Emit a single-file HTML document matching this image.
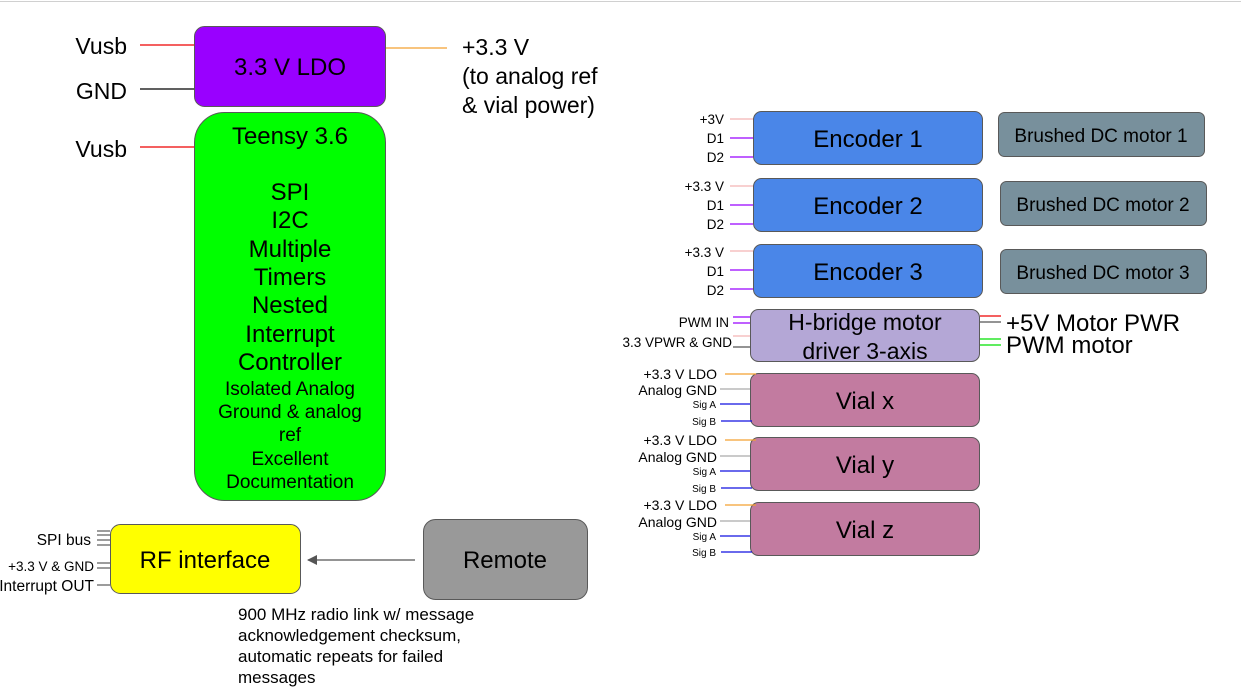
<!DOCTYPE html>
<html><head><meta charset="utf-8"><style>
html,body{margin:0;padding:0;background:#fff;width:1241px;height:691px;overflow:hidden}
svg{display:block;font-family:"Liberation Sans",Arial,sans-serif}
</style></head><body>
<svg width="1241" height="691" viewBox="0 0 1241 691" xmlns="http://www.w3.org/2000/svg">
<defs><marker id="ah" markerWidth="10" markerHeight="10" refX="9" refY="5" orient="auto" markerUnits="userSpaceOnUse"><path d="M0,0 L10,5 L0,10 Z" fill="#555"/></marker></defs>
<line x1="0" y1="1.5" x2="1241" y2="1.5" stroke="#d0d0d0" stroke-width="1"/>
<g stroke="#595959" stroke-width="1">
<rect x="194.5" y="26.5" width="191" height="80" rx="10" fill="#9900ff"/>
<rect x="194.5" y="112.5" width="191" height="388" rx="30" fill="#00ff00"/>
<rect x="110.5" y="524.5" width="190" height="69" rx="10" fill="#ffff00"/>
<rect x="423.5" y="519.5" width="164" height="80" rx="12" fill="#999999"/>
<rect x="753.5" y="111.5" width="229" height="53" rx="8" fill="#4a86e8"/>
<rect x="753.5" y="178.5" width="229" height="53" rx="8" fill="#4a86e8"/>
<rect x="753.5" y="244.5" width="229" height="53" rx="8" fill="#4a86e8"/>
<rect x="998.5" y="112.5" width="206" height="44" rx="6" fill="#78909c"/>
<rect x="1000.5" y="181.5" width="206" height="44" rx="6" fill="#78909c"/>
<rect x="1000.5" y="249.5" width="206" height="44" rx="6" fill="#78909c"/>
<rect x="750.5" y="309.5" width="229" height="52" rx="8" fill="#b4a7d6"/>
<rect x="750.5" y="373.5" width="229" height="53" rx="8" fill="#c27ba0"/>
<rect x="750.5" y="437.5" width="229" height="53" rx="8" fill="#c27ba0"/>
<rect x="750.5" y="502.5" width="229" height="53" rx="8" fill="#c27ba0"/>
</g>
<g stroke-width="1.3">
<line x1="140" y1="45" x2="194" y2="45" stroke="#e00"/>
<line x1="140" y1="89" x2="194" y2="89" stroke="#000"/>
<line x1="140" y1="147" x2="194" y2="147" stroke="#e00"/>
<line x1="386" y1="48" x2="447" y2="48" stroke="#f4a030"/>
<line x1="415" y1="560" x2="308" y2="560" stroke="#555" marker-end="url(#ah)"/>
<g stroke="#666"><line x1="97" y1="531" x2="110" y2="531"/><line x1="97" y1="535" x2="110" y2="535"/><line x1="97" y1="540" x2="110" y2="540"/><line x1="97" y1="545" x2="110" y2="545"/><line x1="97" y1="563" x2="110" y2="563"/><line x1="97" y1="568" x2="110" y2="568"/><line x1="97" y1="585" x2="110" y2="585"/></g>
<g stroke="#f4b4b4"><line x1="730" y1="119" x2="753" y2="119"/><line x1="730" y1="186" x2="753" y2="186"/><line x1="730" y1="251" x2="753" y2="251"/><line x1="733" y1="336" x2="750" y2="336"/></g>
<g stroke="#9900ff"><line x1="730" y1="138" x2="753" y2="138"/><line x1="730" y1="157" x2="753" y2="157"/><line x1="730" y1="205" x2="753" y2="205"/><line x1="730" y1="224" x2="753" y2="224"/><line x1="730" y1="270" x2="753" y2="270"/><line x1="730" y1="289" x2="753" y2="289"/><line x1="733" y1="317" x2="750" y2="317"/><line x1="733" y1="323" x2="750" y2="323"/></g>
<line x1="733" y1="347" x2="750" y2="347" stroke="#555"/>
<line x1="980" y1="316" x2="1001" y2="316" stroke="#e00"/>
<line x1="980" y1="322" x2="1001" y2="322" stroke="#555"/>
<line x1="980" y1="339" x2="1001" y2="339" stroke="#00e000"/>
<line x1="980" y1="345" x2="1001" y2="345" stroke="#00e000"/>
<g stroke="#f4a030"><line x1="725" y1="374" x2="756" y2="374"/><line x1="725" y1="440" x2="756" y2="440"/><line x1="725" y1="505" x2="756" y2="505"/></g>
<g stroke="#aaa"><line x1="720" y1="389" x2="750" y2="389"/><line x1="720" y1="456" x2="750" y2="456"/><line x1="720" y1="521" x2="750" y2="521"/></g>
<g stroke="#1010e0"><line x1="720" y1="404" x2="750" y2="404"/><line x1="721" y1="421" x2="752" y2="421"/><line x1="720" y1="471" x2="750" y2="471"/><line x1="721" y1="488" x2="752" y2="488"/><line x1="720" y1="536" x2="750" y2="536"/><line x1="721" y1="552" x2="752" y2="552"/></g>
</g>
<g fill="#000" font-size="23" text-anchor="end">
<text x="127" y="54">Vusb</text><text x="127" y="99">GND</text><text x="127" y="157">Vusb</text>
</g>
<g font-size="23" fill="#000">
<text x="462" y="55">+3.3 V</text><text x="462" y="84">(to analog ref</text><text x="462" y="113">&amp; vial power)</text>
</g>
<g text-anchor="middle" fill="#000">
<text x="290" y="75" font-size="24">3.3 V LDO</text>
<text x="290" y="144" font-size="24">Teensy 3.6</text>
<g font-size="24"><text x="290" y="200">SPI</text><text x="290" y="228">I2C</text><text x="290" y="257">Multiple</text><text x="290" y="285">Timers</text><text x="290" y="313">Nested</text><text x="290" y="342">Interrupt</text><text x="290" y="370">Controller</text></g>
<g font-size="19"><text x="290" y="395">Isolated Analog</text><text x="290" y="418">Ground &amp; analog</text><text x="290" y="441">ref</text><text x="290" y="465">Excellent</text><text x="290" y="488">Documentation</text></g>
<text x="205" y="568" font-size="24">RF interface</text>
<text x="505" y="568" font-size="24">Remote</text>
<g font-size="24"><text x="868" y="147">Encoder 1</text><text x="868" y="214">Encoder 2</text><text x="868" y="280">Encoder 3</text>
<text x="865" y="409">Vial x</text><text x="865" y="473">Vial y</text><text x="865" y="538">Vial z</text></g>
<g font-size="23"><text x="865" y="330">H-bridge motor</text><text x="865" y="359">driver 3-axis</text></g>
<g font-size="19"><text x="1101" y="142">Brushed DC motor 1</text><text x="1103" y="211">Brushed DC motor 2</text><text x="1103" y="279">Brushed DC motor 3</text></g>
</g>
<g font-size="17" fill="#000"><text x="238" y="620">900 MHz radio link w/ message</text><text x="238" y="641">acknowledgement checksum,</text><text x="238" y="662">automatic repeats for failed</text><text x="238" y="683">messages</text></g>
<g font-size="24" fill="#000"><text x="1006" y="331">+5V Motor PWR</text><text x="1006" y="353">PWM motor</text></g>
<g text-anchor="end" fill="#000">
<text x="91" y="545" font-size="15.5">SPI bus</text><text x="94" y="571" font-size="13.5">+3.3 V &amp; GND</text><text x="94" y="591" font-size="15.5">Interrupt OUT</text>
<g font-size="13.5"><text x="724" y="124">+3V</text><text x="724" y="143">D1</text><text x="724" y="162">D2</text>
<text x="724" y="191">+3.3 V</text><text x="724" y="210">D1</text><text x="724" y="229">D2</text>
<text x="724" y="257">+3.3 V</text><text x="724" y="276">D1</text><text x="724" y="295">D2</text>
<text x="729" y="327">PWM IN</text><text x="732" y="347">3.3 VPWR &amp; GND</text></g>
<g font-size="14"><text x="717" y="379">+3.3 V LDO</text><text x="717" y="395">Analog GND</text><text x="717" y="445">+3.3 V LDO</text><text x="717" y="462">Analog GND</text><text x="717" y="510">+3.3 V LDO</text><text x="717" y="527">Analog GND</text></g>
<g font-size="10"><text x="716" y="408">Sig A</text><text x="716" y="425">Sig B</text><text x="716" y="475">Sig A</text><text x="716" y="492">Sig B</text><text x="716" y="540">Sig A</text><text x="716" y="556">Sig B</text></g>
</g>
</svg>
</body></html>
